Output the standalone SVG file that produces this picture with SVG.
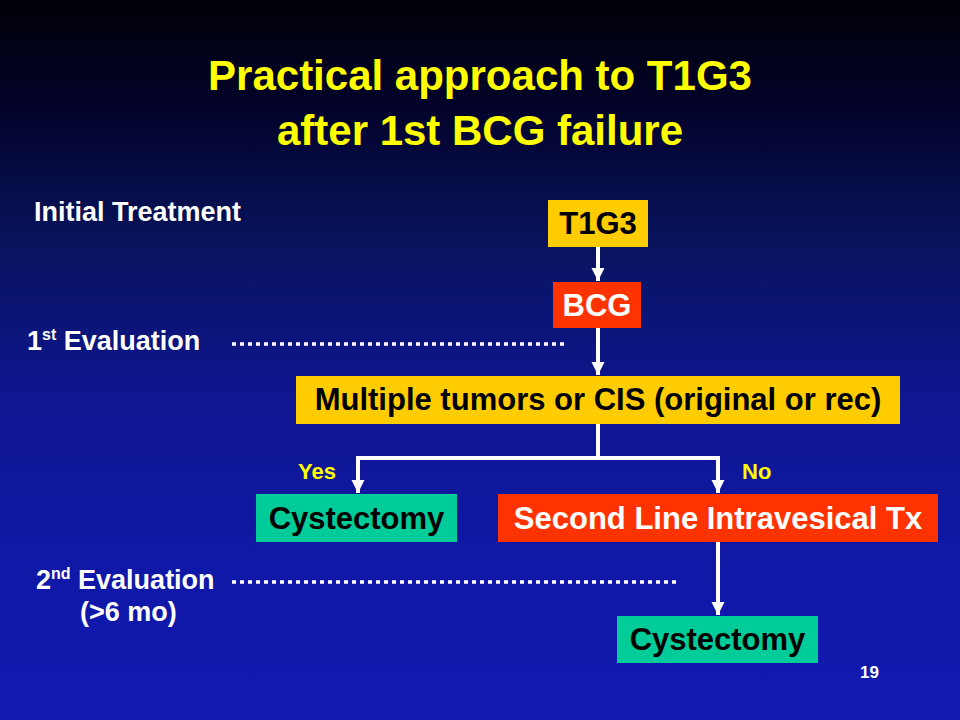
<svg xmlns="http://www.w3.org/2000/svg" width="960" height="720" viewBox="0 0 960 720">
  <defs>
    <linearGradient id="bg" x1="0" y1="0" x2="0" y2="1">
      <stop offset="0" stop-color="#000008"/>
      <stop offset="0.15" stop-color="#03032a"/>
      <stop offset="0.35" stop-color="#081460"/>
      <stop offset="0.55" stop-color="#0e1690"/>
      <stop offset="0.8" stop-color="#1018a8"/>
      <stop offset="1" stop-color="#1119b0"/>
    </linearGradient>
    <marker id="arr" markerUnits="userSpaceOnUse" markerWidth="14" markerHeight="14" refX="13" refY="6.5" orient="auto">
      <path d="M0,0 L13,6.5 L0,13 z" fill="#FFFFFF"/>
    </marker>
    <style>
      text { font-family: "Liberation Sans", Arial, sans-serif; font-weight: bold; }
      .title { font-size: 42px; fill: #FFFF00; text-anchor: middle; }
      .lbl { font-size: 27px; fill: #FFFFFF; }
      .sup { font-size: 16px; }
      .yn { font-size: 22px; fill: #FFFF00; }
      .box { font-size: 31px; text-anchor: middle; }
      .dark { fill: #000000; }
      .light { fill: #FFFFFF; }
      .yellow { fill: #FFCC00; }
      .red { fill: #FF3300; }
      .green { fill: #00CC99; }
      .conn { stroke: #FFFFFF; stroke-width: 4; fill: none; }
      .dots { stroke: #FFFFFF; stroke-width: 3.5; stroke-dasharray: 4 4; fill: none; }
    </style>
  </defs>

  <rect x="0" y="0" width="960" height="720" fill="url(#bg)"/>

  <g id="title">
    <text class="title" x="480" y="90">Practical approach to T1G3</text>
    <text class="title" x="480" y="145">after 1st BCG failure</text>
  </g>

  <g id="stage-labels">
    <text class="lbl" x="34" y="221">Initial Treatment</text>
    <text class="lbl" x="27" y="350">1<tspan class="sup" dy="-10">st</tspan><tspan dy="10"> Evaluation</tspan></text>
    <text class="lbl" x="36" y="589">2<tspan class="sup" dy="-10">nd</tspan><tspan dy="10"> Evaluation</tspan></text>
    <text class="lbl" x="80" y="621">(&gt;6 mo)</text>
    <text x="860" y="678" style="font-size:17px;fill:#FFFFFF">19</text>
  </g>

  <g id="connectors">
    <line class="dots" x1="232" y1="344" x2="564" y2="344"/>
    <line class="dots" x1="232" y1="582" x2="678" y2="582"/>
    <line class="conn" x1="598" y1="247" x2="598" y2="281" marker-end="url(#arr)"/>
    <line class="conn" x1="598" y1="328" x2="598" y2="375" marker-end="url(#arr)"/>
    <path class="conn" d="M598,424 V458 H358 V493" marker-end="url(#arr)"/>
    <path class="conn" d="M598,458 H718 V493" marker-end="url(#arr)"/>
    <line class="conn" x1="718" y1="542" x2="718" y2="615" marker-end="url(#arr)"/>
    <text class="yn" x="298" y="479">Yes</text>
    <text class="yn" x="742" y="479">No</text>
  </g>

  <g id="t1g3">
    <rect class="yellow" x="548" y="200" width="100" height="47"/>
    <text class="box dark" x="598" y="234">T1G3</text>
  </g>

  <g id="bcg">
    <rect class="red" x="553" y="282" width="88" height="46"/>
    <text class="box light" x="597" y="316">BCG</text>
  </g>

  <g id="multiple">
    <rect class="yellow" x="296" y="376" width="604" height="48"/>
    <text class="box dark" x="598" y="410">Multiple tumors or CIS (original or rec)</text>
  </g>

  <g id="cystectomy1">
    <rect class="green" x="256" y="494" width="201" height="48"/>
    <text class="box dark" x="356.5" y="529">Cystectomy</text>
  </g>

  <g id="second-line">
    <rect class="red" x="498" y="494" width="440" height="48"/>
    <text class="box light" x="718" y="529">Second Line Intravesical Tx</text>
  </g>

  <g id="cystectomy2">
    <rect class="green" x="617" y="616" width="201" height="47"/>
    <text class="box dark" x="717.5" y="650">Cystectomy</text>
  </g>
</svg>
